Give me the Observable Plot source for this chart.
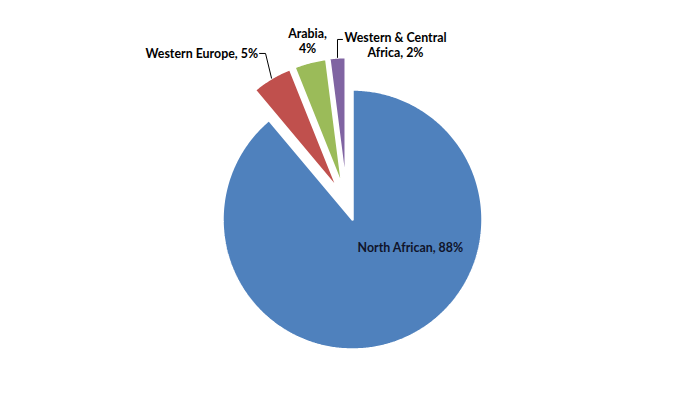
<!DOCTYPE html>
<html><head><meta charset="utf-8">
<script src="https://cdn.jsdelivr.net/npm/d3@7"></script>
<script src="https://cdn.jsdelivr.net/npm/@observablehq/plot@0.6"></script>
<style>body{margin:0;background:#fff}svg{display:block}</style>
</head><body><div id="chart"></div>
<script>
// ---- data ----
const regions = ["North African", "Western Europe", "Arabia", "Western & Central Africa"];
const shares = [88, 5, 4, 2];
const labelTexts = ["North African, 88%", "Western Europe, 5%", "Arabia,\n4%", "Western & Central\nAfrica, 2%"];
const sliceColors = ["#4F81BD", "#C0504D", "#9BBB59", "#8064A2"];

// ---- layout ----
const W = 699, H = 401, CX = 352, CY = 219;
const R = 130, EXPLODE = 33;

const pie = d3.pie().sort(null).value(d => d)(shares);
// exploded group = all slices after the first; direction blends each slice's bisector with the group's bisector
const groupMid = (pie[1].startAngle + pie[pie.length - 1].endAngle) / 2;
const slices = pie.map((p, i) => {
  const mid = (p.startAngle + p.endAngle) / 2;
  const e = i === 0 ? 0 : EXPLODE;
  const dir = (mid + groupMid) / 2;
  const ox = e * Math.sin(dir), oy = e * Math.cos(dir);
  const pts = [{x: ox, y: oy}];
  const n = Math.max(4, Math.ceil((p.endAngle - p.startAngle) / 0.01));
  for (let k = 0; k <= n; k++) {
    const a = p.startAngle + (p.endAngle - p.startAngle) * k / n;
    pts.push({x: ox + R * Math.sin(a), y: oy + R * Math.cos(a)});
  }
  pts.push({x: ox, y: oy});
  return {region: regions[i], color: sliceColors[i], label: labelTexts[i], pts,
          outer: {x: ox + R * Math.sin(mid), y: oy + R * Math.cos(mid)}};
});

const [na, we, ar, wc] = slices;
const labels = [
  {text: na.label, x: 0.445 * R, y: -0.215 * R, anchor: "middle"},
  {text: we.label, x: we.outer.x - 13.5, y: we.outer.y + 24.7, anchor: "end"},
  {text: ar.label, x: ar.outer.x - 2.5, y: ar.outer.y + 21.2, anchor: "middle"},
  {text: wc.label, x: wc.outer.x + 58, y: wc.outer.y + 13, anchor: "middle"}
];
const leaders = [
  [we.outer, {x: we.outer.x - 6, y: we.outer.y + 24.7}, {x: we.outer.x - 12, y: we.outer.y + 24.7}],
  [wc.outer, {x: wc.outer.x, y: wc.outer.y + 18}, {x: wc.outer.x + 5, y: wc.outer.y + 18}]
];

const font = "Lato, 'Open Sans', sans-serif";
const marks = [
  ...slices.map(s => Plot.line(s.pts, {x: "x", y: "y", fill: s.color, stroke: "#fff", strokeWidth: 2.5, strokeLinejoin: "miter"})),
  ...leaders.map(l => Plot.line(l, {x: "x", y: "y", stroke: "#000", strokeWidth: 1})),
  ...labels.map(l => Plot.text([l], {x: "x", y: "y", text: "text", textAnchor: l.anchor, lineAnchor: "middle",
      fontWeight: "bold", fontSize: 12.4, lineHeight: 1.23, fill: l.text === na.label ? "#10142a" : "#000"}))
];

const chart = Plot.plot({
  width: W, height: H, margin: 0,
  x: {domain: [-CX, W - CX], axis: null},
  y: {domain: [CY - H, CY], axis: null},
  style: {fontFamily: font, background: "#fff"},
  marks
});
document.getElementById("chart").append(chart);
</script>
</body></html>
